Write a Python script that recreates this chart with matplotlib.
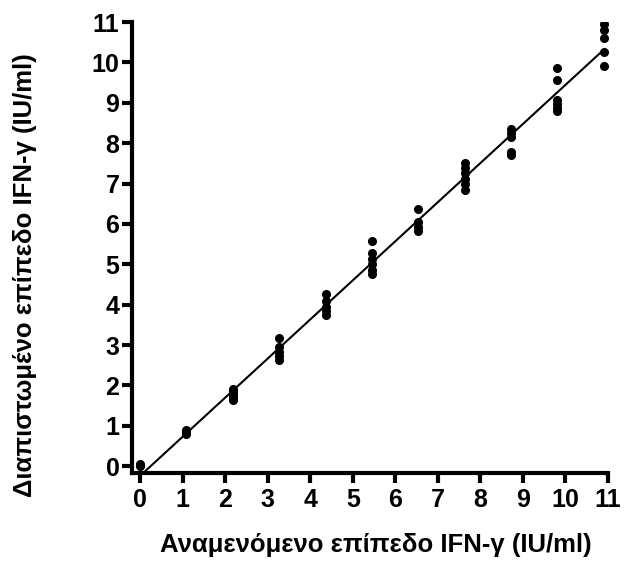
import numpy as np
import matplotlib.pyplot as plt

plt.rcParams['font.family'] = ['Liberation Sans', 'DejaVu Sans']
plt.rcParams['font.weight'] = 'bold'

# expected level of each group
expected = [0.0, 1.09, 2.18, 3.27, 4.36, 5.45, 6.54, 7.63, 8.72, 9.81, 10.9]

# measured values per group
measured = [
    [0.0, 0.05],
    [0.8, 0.85, 0.9],
    [1.65, 1.72, 1.78, 1.85, 1.9],
    [2.62, 2.72, 2.82, 2.95, 3.18],
    [3.75, 3.85, 3.95, 4.1, 4.27],
    [4.75, 4.85, 5.0, 5.12, 5.27, 5.58],
    [5.82, 5.92, 6.05, 6.38],
    [6.85, 7.0, 7.12, 7.25, 7.38, 7.5],
    [7.7, 7.77, 8.15, 8.25, 8.36],
    [8.8, 8.88, 8.97, 9.06, 9.56, 9.87],
    [9.92, 10.26, 10.6, 10.8, 10.96],
]

xs = np.concatenate([[e] * len(m) for e, m in zip(expected, measured)])
ys = np.concatenate(measured)

fig = plt.figure(figsize=(6.33, 5.69), dpi=100)
ax = fig.add_axes([132 / 633, 1 - 473 / 569, 476 / 633, 451 / 569])

ax.plot(xs, ys, 'o', color='black', markersize=5.5, zorder=3)

# linear regression line
slope, intercept = np.polyfit(xs, ys, 1)
lx = np.array([0.0, max(expected)])
ax.plot(lx, slope * lx + intercept, color='black', linewidth=1.5, zorder=2)

ax.set_xlim(-0.19, 11)
ax.set_ylim(-0.17, 11)
ax.set_xticks(range(12))
ax.set_yticks(range(12))

for side in ['top', 'right']:
    ax.spines[side].set_visible(False)
for side in ['left', 'bottom']:
    ax.spines[side].set_linewidth(3)

ax.tick_params(width=3, length=7, labelsize=18, pad=2)
ax.tick_params(axis='x', pad=4)
for lab in ax.get_xticklabels() + ax.get_yticklabels():
    lab.set_fontweight('bold')

fig.text(0.593, 0.043, 'Αναμενόμενο επίπεδο IFN-γ (IU/ml)',
         ha='center', va='center', fontsize=18.5, fontweight='bold')
fig.text(0.04, 0.517, 'Διαπιστωμένο επίπεδο IFN-γ (IU/ml)',
         ha='center', va='center', rotation=90, fontsize=18.5, fontweight='bold')

fig.savefig('out.png', dpi=100)
